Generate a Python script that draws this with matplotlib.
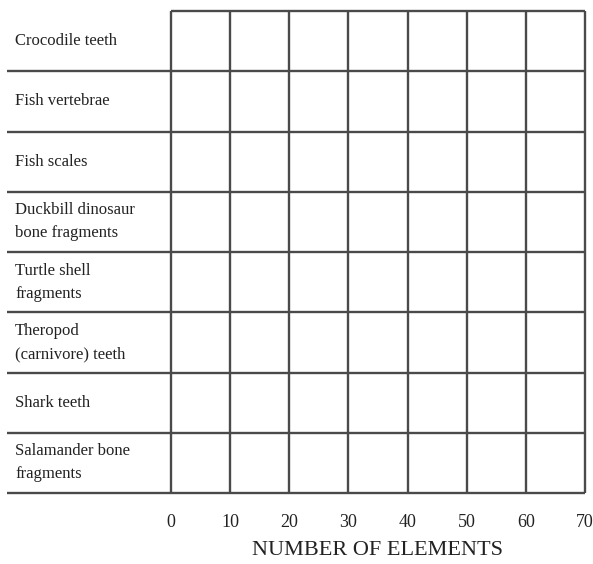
import numpy as np
import matplotlib.pyplot as plt

# rows of the blank tally chart, top to bottom
CATEGORIES = [
    "Crocodile teeth",
    "Fish vertebrae",
    "Fish scales",
    "Duckbill dinosaur\nbone fragments",
    "Turtle shell\nfragments",
    "Theropod\n(carnivore) teeth",
    "Shark teeth",
    "Salamander bone\nfragments",
]
X_TICKS = [0, 10, 20, 30, 40, 50, 60, 70]
X_LABEL = "NUMBER OF ELEMENTS"

LINE_COLOR = "#4a4a4a"
TEXT_COLOR = "#222222"
plt.rcParams["font.family"] = ["Liberation Serif", "DejaVu Serif"]

W, H = 593, 564
fig = plt.figure(figsize=(W / 100, H / 100), dpi=100)
left, right, top, bottom = 171, 585, 11, 493
ax = fig.add_axes([left / W, 1 - bottom / H, (right - left) / W, (bottom - top) / H])

n = len(CATEGORIES)
ax.set_xlim(X_TICKS[0], X_TICKS[-1])
ax.set_ylim(n, 0)
for s in ax.spines.values():
    s.set_visible(False)

# data units per pixel in x, to reach into the label column
px = (X_TICKS[-1] - X_TICKS[0]) / (right - left)
x_line_start = X_TICKS[0] - (left - 7) * px
x_text = X_TICKS[0] - (left - 15) * px

ax.vlines(X_TICKS, 0, n, color=LINE_COLOR, lw=1.7, clip_on=False)
ax.hlines([0], X_TICKS[0], X_TICKS[-1], color=LINE_COLOR, lw=1.7, clip_on=False)
ax.hlines(np.arange(1, n + 1), x_line_start, X_TICKS[-1], color=LINE_COLOR, lw=1.7, clip_on=False)

for i, name in enumerate(CATEGORIES):
    ax.text(x_text, i + 0.5, name, ha="left", va="center", fontsize=12,
            color=TEXT_COLOR, linespacing=1.6)

ax.set_yticks([])
ax.set_xticks(X_TICKS)
ax.set_xticklabels([str(t) for t in X_TICKS], fontsize=13, color=TEXT_COLOR)
ax.tick_params(axis="x", length=0, pad=15)
ax.set_xlabel(X_LABEL, fontsize=16, color=TEXT_COLOR, labelpad=7)

fig.savefig("out.png", dpi=100)
